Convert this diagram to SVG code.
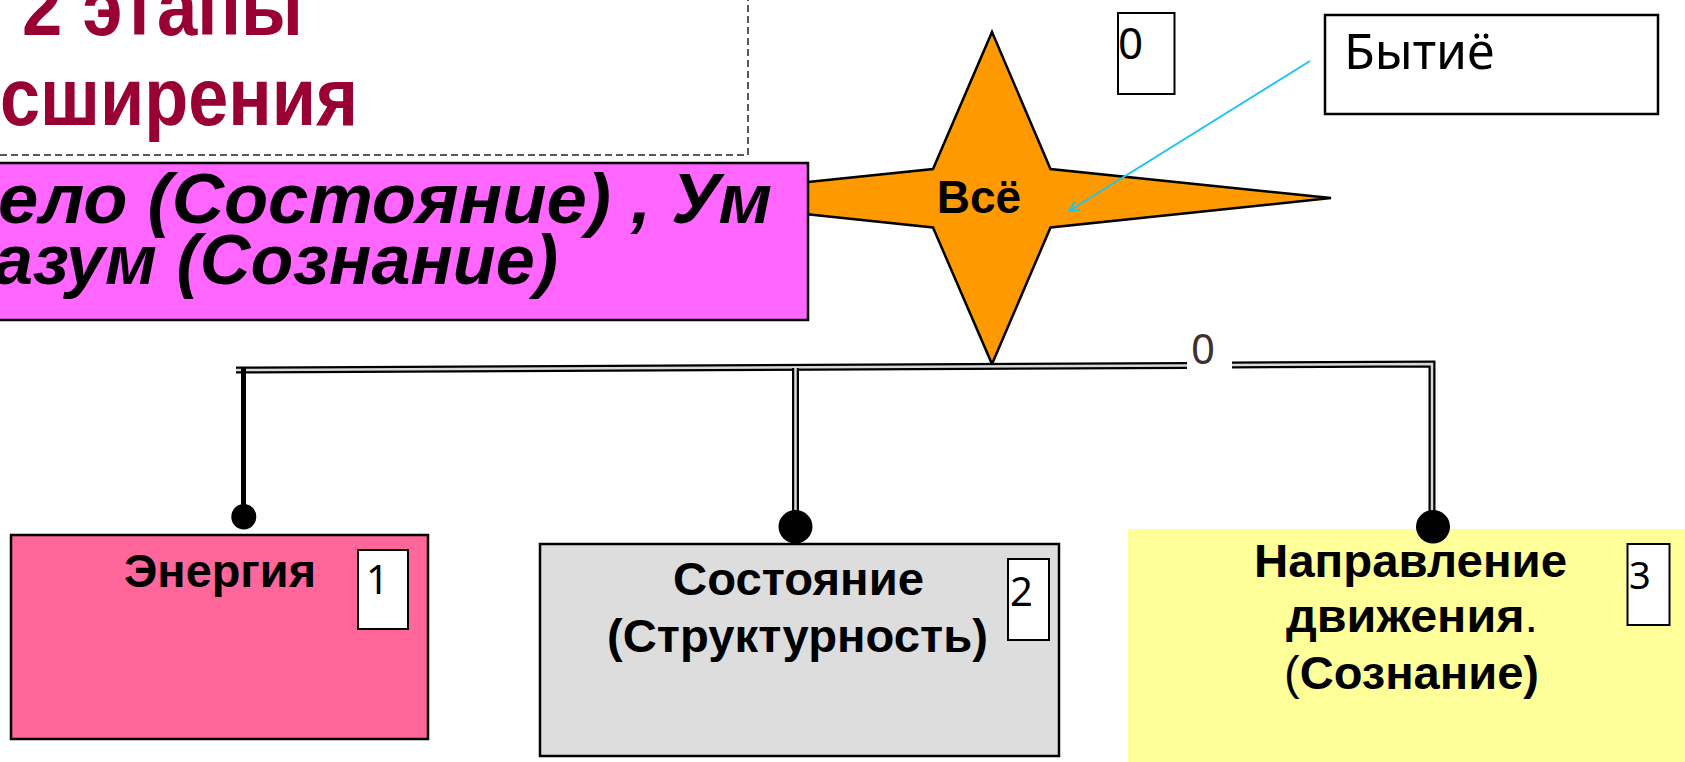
<svg xmlns="http://www.w3.org/2000/svg" width="1685" height="762" viewBox="0 0 1685 762">
<style>
.b{font-family:"Liberation Sans",Arial,sans-serif;font-weight:bold;fill:#000}
.n{font-family:"Noto Sans","Open Sans",sans-serif;fill:#000}
.h{fill:#990033}
.box{stroke:#000;stroke-width:2.5}
.dbl{fill:none;stroke:#000;stroke-width:7}
.dblin{fill:none;stroke:#d8d8d8;stroke-width:2.5}
.dot{fill:#000}
</style>
<defs>
<marker id="ar" viewBox="0 0 12 12" refX="11" refY="6" markerWidth="12" markerHeight="12" markerUnits="userSpaceOnUse" orient="auto">
<path d="M1 1 L11 6 L1 11" fill="none" stroke="#1EC4EE" stroke-width="2"/>
</marker>
</defs>
<rect width="1685" height="762" fill="#fff"/>
<g id="heading">
<path d="M0 155 H748 V0" fill="none" stroke="#222" stroke-width="1.5" stroke-dasharray="7 4"/>
<text class="b h" x="22" y="35" font-size="82" textLength="281" lengthAdjust="spacingAndGlyphs">2 этапы</text>
<text class="b h" x="0" y="125" font-size="82" textLength="358" lengthAdjust="spacingAndGlyphs">сширения</text>
</g>
<g id="star">
<polygon points="992,32 1050.5,169 1331,198 1050.5,227.5 992,364 933,227.5 653,198 933,169" fill="#FF9900" stroke="#000" stroke-width="2.5" stroke-linejoin="miter"/>
<text class="b" x="979" y="213" font-size="46" text-anchor="middle">Всё</text>
</g>
<g id="magenta">
<rect class="box" x="-5" y="163" width="813" height="157" fill="#FF66FF"/>
<text class="b" x="-2" y="223" font-size="71" font-style="italic" textLength="774" lengthAdjust="spacingAndGlyphs">ело (Состояние) , Ум</text>
<text class="b" x="-6" y="284" font-size="71" font-style="italic" textLength="564" lengthAdjust="spacingAndGlyphs">азум (Сознание)</text>
</g>
<g id="label0">
<rect x="1118" y="13" width="56.5" height="81" fill="#fff" stroke="#000" stroke-width="2"/>
<text class="n" x="1118" y="59" font-size="44">0</text>
</g>
<g id="bytie">
<rect x="1325" y="15" width="333" height="99" fill="#fff" stroke="#000" stroke-width="2.5"/>
<text class="n" x="1344" y="69" font-size="50">Бытиё</text>
</g>
<g id="connectors">
<line x1="1310" y1="61" x2="1069" y2="211" stroke="#1EC4EE" stroke-width="2" marker-end="url(#ar)"/>
<path class="dbl" d="M236 370 L1187 365.5"/>
<path class="dblin" d="M236 370 L1187 365.5"/>
<path class="dbl" d="M1232 365 L1432 364 L1432 512"/>
<path class="dblin" d="M1232 365 L1432 364 L1432 512"/>
<path class="dbl" d="M795.5 368 L795.5 512"/>
<path class="dblin" d="M795.5 368 L795.5 512"/>
<path d="M243.5 368 L243.5 508" stroke="#000" stroke-width="5" fill="none"/>
<text class="n" x="1203" y="364" font-size="42" text-anchor="middle" style="fill:#403030">0</text>
</g>
<g id="energy">
<rect class="box" x="11" y="535" width="417" height="204" fill="#FF6699"/>
<text class="b" x="124" y="587" font-size="47" textLength="192" lengthAdjust="spacingAndGlyphs">Энергия</text>
<rect x="358" y="550" width="50" height="79" fill="#fff" stroke="#000" stroke-width="2"/>
<text class="n" x="366" y="594" font-size="40">1</text>
</g>
<g id="state">
<rect class="box" x="540" y="544" width="519" height="212" fill="#DDDDDD"/>
<text class="b" x="673" y="595" font-size="47" textLength="251" lengthAdjust="spacingAndGlyphs">Состояние</text>
<text class="b" x="607" y="652" font-size="47" textLength="381" lengthAdjust="spacingAndGlyphs">(Структурность)</text>
<rect x="1008" y="559" width="41" height="81" fill="#fff" stroke="#000" stroke-width="2"/>
<text class="n" x="1010" y="606" font-size="40">2</text>
</g>
<g id="direction">
<rect x="1128" y="529" width="560" height="240" fill="#FFFF99"/>
<text class="b" x="1254" y="577" font-size="47" textLength="313" lengthAdjust="spacingAndGlyphs">Направление</text>
<text class="b" x="1286" y="632" font-size="47" textLength="252" lengthAdjust="spacingAndGlyphs">движения<tspan font-weight="normal">.</tspan></text>
<text class="b" x="1284" y="689" font-size="47" textLength="255" lengthAdjust="spacingAndGlyphs"><tspan font-weight="normal">(</tspan>Сознание)</text>
<rect x="1627.5" y="544" width="42" height="81" fill="#fff" stroke="#000" stroke-width="2"/>
<text class="n" x="1629" y="589" font-size="38">3</text>
</g>
<g id="dots">
<ellipse class="dot" cx="243.8" cy="516.7" rx="12.5" ry="12.7"/>
<ellipse class="dot" cx="795.5" cy="526.7" rx="17" ry="16.7"/>
<ellipse class="dot" cx="1433" cy="526.7" rx="17" ry="16.7"/>
</g>
</svg>
